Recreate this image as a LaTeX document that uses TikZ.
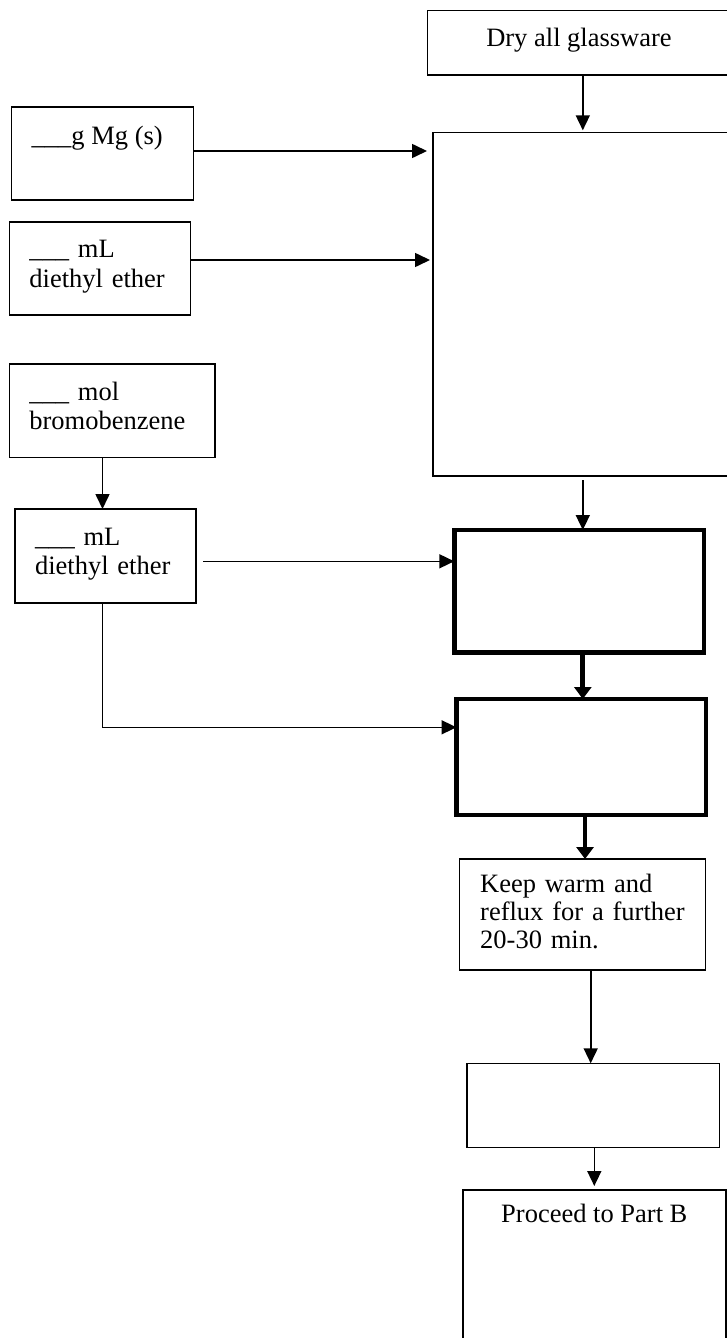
\documentclass[tikz,border=0pt]{standalone}
\usepackage{fontspec}
\setmainfont{Liberation Serif}
\usetikzlibrary{arrows.meta,calc}
\begin{document}
\begin{tikzpicture}[x=1pt,y=-1pt,
  box/.style={draw, line width=1.6pt, rectangle, inner sep=0pt, outer sep=0pt, anchor=north west},
  tbox/.style={draw, line width=4.5pt, rectangle, inner sep=0pt, outer sep=0pt, anchor=north west},
  txt/.style={inner sep=0pt, anchor=base west, font=\fontsize{26.5}{29.8}\selectfont},
  mtxt/.style={txt, text width=220pt, align=left},
  arr/.style={line width=1.6pt, -{Triangle[length=15pt,width=14pt]}},
  tarr/.style={line width=4.8pt, -{Triangle[length=12pt,width=17pt]}},
]
\fill[white] (0,0) rectangle (727,1338);
\clip (0,0) rectangle (727,1338);

% boxes
\node[box, minimum width=330, minimum height=64.3] (dry) at (427.5,10.7) {};
\node[txt, anchor=base] (dryT) at (579,46.7) {Dry all glassware};
\node[box, minimum width=320, minimum height=343.7] (big) at (433,132.3) {};
\node[box, minimum width=181.7, minimum height=93.3] (mg) at (11.6,106.7) {};
\node[txt] (mgT) at (31.5,144) {\_\_\_g Mg (s)};
\node[box, minimum width=181.2, minimum height=93.3] (e1) at (9.3,221.7) {};
\node[mtxt] (e1T) at (29.2,257.7) {\_\_\_ mL\\diethyl ether};
\node[box, minimum width=205.4, minimum height=93.3] (br) at (9.3,364) {};
\node[mtxt] (brT) at (29.2,400) {\_\_\_ mol\\bromobenzene};
\node[box, minimum width=181.2, minimum height=93.7] (e2) at (14.8,509) {};
\node[mtxt] (e2T) at (34.8,545) {\_\_\_ mL\\diethyl ether};
\node[tbox, minimum width=249.5, minimum height=122.3] (t1) at (454.3,530) {};
\node[tbox, minimum width=249.5, minimum height=116] (t2) at (456.5,699) {};
\node[box, minimum width=246, minimum height=111] (keep) at (459.3,859) {};
\node[mtxt, font=\fontsize{26.5}{28.3}\selectfont] (keepT) at (480,892) {Keep warm and\\reflux for a further\\20-30 min.};
\node[box, minimum width=252.3, minimum height=84] (emp) at (467,1063.3) {};
\node[box, minimum width=263, minimum height=220] (pro) at (463,1190) {};
\node[txt] (proT) at (501,1222.7) {Proceed to Part B};

% helper coordinates
\coordinate (xa) at (582.8,0);
\coordinate (xb) at (102.5,0);
\coordinate (xc) at (585,0);
\coordinate (xd) at (590.7,0);
\coordinate (xe) at (594.3,0);
\coordinate (ya) at (0,151);
\coordinate (yb) at (0,260);
\coordinate (yc) at (0,561.3);
\coordinate (yd) at (0,727.3);

% connectors
\draw[arr, shorten >=2pt] (dry.south -| xa) -- (big.north -| xa);
\draw[arr, shorten >=6pt] (mg.east |- ya) -- (big.west |- ya);
\draw[arr, shorten >=3pt] (e1.east |- yb) -- (big.west |- yb);
\draw[arr] (br.south -| xb) -- (e2.north -| xb);
\draw[arr] ($(e2.east |- yc)+(7,0)$) -- (t1.west |- yc);
\draw[arr] ($(big.south -| xa)+(0,4)$) -- (t1.north -| xa);
\draw[tarr] (t1.south -| xa) -- (t2.north -| xa);
\draw[arr] (e2.south -| xb) -- (xb |- yd) -- (t2.west |- yd);
\draw[tarr] (t2.south -| xc) -- (keep.north -| xc);
\draw[arr] (keep.south -| xd) -- (emp.north -| xd);
\draw[arr, shorten >=4pt] (emp.south -| xe) -- (pro.north -| xe);
\end{tikzpicture}
\end{document}
